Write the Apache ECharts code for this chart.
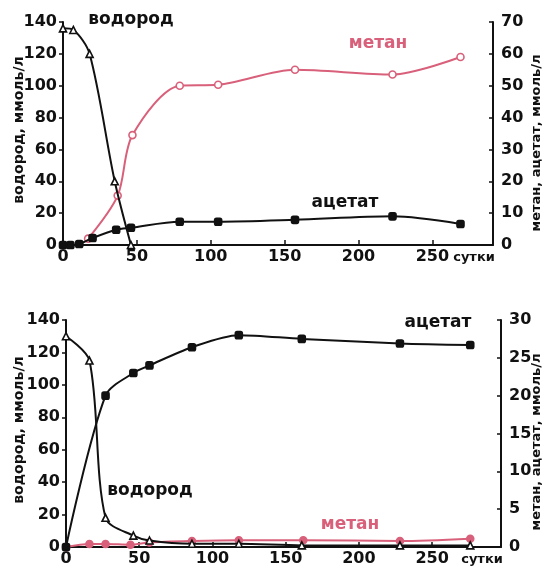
<!DOCTYPE html>
<html>
<head>
<meta charset="utf-8">
<script src="https://cdn.jsdelivr.net/npm/echarts@6/dist/echarts.min.js"></script>
<style>
  html, body { margin: 0; padding: 0; background: #fff; }
  #chart { width: 544px; height: 570px; }
</style>
</head>
<body>
<div id="chart"></div>
<script>
// days on the x axis, values in ммоль/л
const xTicks = [0, 50, 100, 150, 200, 250];

// upper panel
const h1Days = [0, 7, 18, 35, 46];
const h1Vals = [136, 135, 120, 40, 0];
const m1Days = [17, 37, 47, 79, 105, 157, 223, 269];
const m1Vals = [2, 15.5, 34.5, 50, 50.3, 55, 53.5, 59];
const a1Days = [0, 5, 11, 20, 36, 46, 79, 105, 157, 223, 269];
const a1Vals = [0, 0, 0.3, 2.2, 4.8, 5.4, 7.3, 7.3, 7.9, 9, 6.6];

// lower panel
const h2Days = [0, 16, 27, 46, 57, 86, 118, 161, 228, 276];
const h2Vals = [130, 115, 18, 7, 4, 2, 2, 1, 1, 1];
const m2Days = [0, 16, 27, 44, 57, 86, 118, 162, 228, 276];
const m2Vals = [0, 0.4, 0.4, 0.3, 0.6, 0.8, 0.9, 0.9, 0.8, 1.1];
const a2Days = [0, 27, 46, 57, 86, 118, 161, 228, 276];
const a2Vals = [0, 20, 23, 24, 26.4, 28, 27.5, 26.9, 26.7];

const pink = '#d9607a';
const ink = '#111';
const font = 'DejaVu Sans';

function pairs(xs, ys) {
  return xs.map((x, i) => [x, ys[i]]);
}

function xAxis(grid, max) {
  return {
    type: 'value', gridIndex: grid, min: 0, max: max,
    axisLine: { lineStyle: { color: ink, width: 2 } },
    axisTick: { inside: true, length: 5, customValues: xTicks, lineStyle: { color: ink, width: 1.5 } },
    axisLabel: { customValues: xTicks, margin: 4, color: ink, fontFamily: font, fontWeight: 'bold', fontSize: 16 },
    splitLine: { show: false }
  };
}

function yAxis(grid, max, step, right) {
  return {
    type: 'value', gridIndex: grid, min: 0, max: max, interval: step,
    position: right ? 'right' : 'left',
    axisLine: { show: true, lineStyle: { color: ink, width: 2 } },
    axisTick: { show: true, inside: !!right, length: 4, lineStyle: { color: ink, width: 1.5 } },
    axisLabel: { margin: right ? 8 : 6, color: ink, fontFamily: font, fontWeight: 'bold', fontSize: 16 },
    splitLine: { show: false }
  };
}

function line(name, data, xi, yi, color, symbol, filled) {
  return {
    name: name, type: 'line', xAxisIndex: xi, yAxisIndex: yi,
    data: data, smooth: 0.3,
    symbol: symbol, symbolSize: 7, showSymbol: true,
    lineStyle: { color: color, width: 2 },
    itemStyle: { color: filled ? color : '#fff', borderColor: color, borderWidth: 1.6 },
    z: color === pink ? 2 : 3
  };
}

function label(text, x, y, color, size, rotate) {
  return {
    type: 'text', x: x, y: y, rotation: rotate ? Math.PI / 2 : 0,
    style: {
      text: text, fill: color, font: 'bold ' + size + 'px "' + font + '"',
      align: 'center', verticalAlign: 'middle'
    }
  };
}

const chart = echarts.init(document.getElementById('chart'), null, { renderer: 'canvas' });

chart.setOption({
  animation: false,
  backgroundColor: '#fff',
  grid: [
    { left: 63, top: 22, width: 430, height: 223 },
    { left: 66, top: 320, width: 435, height: 227 }
  ],
  xAxis: [xAxis(0, 291), xAxis(1, 297)],
  yAxis: [
    yAxis(0, 140, 20, false),
    yAxis(0, 70, 10, true),
    yAxis(1, 140, 20, false),
    yAxis(1, 30, 5, true)
  ],
  series: [
    line('метан', pairs(m1Days, m1Vals), 0, 1, pink, 'circle', false),
    line('ацетат', pairs(a1Days, a1Vals), 0, 1, ink, 'roundRect', true),
    line('водород', pairs(h1Days, h1Vals), 0, 0, ink, 'triangle', false),
    line('метан', pairs(m2Days, m2Vals), 1, 3, pink, 'circle', true),
    line('ацетат', pairs(a2Days, a2Vals), 1, 3, ink, 'roundRect', true),
    line('водород', pairs(h2Days, h2Vals), 1, 2, ink, 'triangle', false)
  ],
  graphic: [
    label('водород', 131, 20, ink, 17),
    label('метан', 378, 44, pink, 17),
    label('ацетат', 345, 203, ink, 17),
    label('сутки', 474, 258, ink, 13),
    label('водород, ммоль/л', 19, 130, ink, 14, true),
    label('метан, ацетат, ммоль/л', 537, 143, ink, 13, true),

    label('ацетат', 438, 323, ink, 17),
    label('водород', 150, 491, ink, 17),
    label('метан', 350, 525, pink, 17),
    label('сутки', 482, 560, ink, 13),
    label('водород, ммоль/л', 19, 430, ink, 14, true),
    label('метан, ацетат, ммоль/л', 537, 442, ink, 13, true)
  ]
});
</script>
</body>
</html>
